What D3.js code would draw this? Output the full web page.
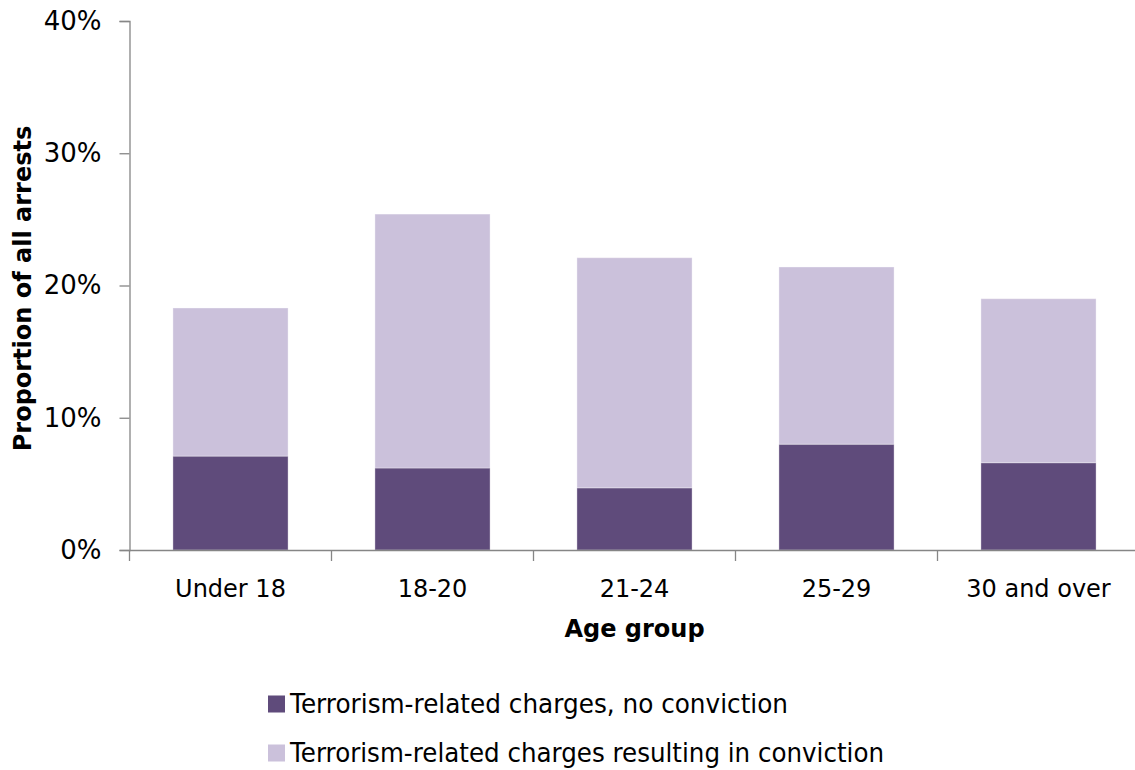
<!DOCTYPE html>
<html>
<head>
<meta charset="utf-8">
<script src="https://cdn.jsdelivr.net/npm/d3@7"></script>
<style>
  html, body { margin: 0; padding: 0; background: #ffffff; }
  svg { display: block; }
  text { font-family: "DejaVu Sans", Verdana, sans-serif; fill: #000; }
</style>
</head>
<body>
<svg id="chart" width="1135" height="770"></svg>
<script>
// Age groups and the share of all arrests (%) in each outcome
const ageGroups = ["Under 18", "18-20", "21-24", "25-29", "30 and over"];
const noConviction = [7.1, 6.2, 4.7, 8.0, 6.6];
const withConviction = [11.2, 19.2, 17.4, 13.4, 12.4];
const yTicks = [0, 10, 20, 30, 40];
const seriesNames = [
  "Terrorism-related charges, no conviction",
  "Terrorism-related charges resulting in conviction"
];
const seriesColors = ["#5f4b7b", "#cbc1db"];

const svg = d3.select("#chart");
const plot = { left: 129.5, right: 1139.5, top: 21, bottom: 550 };

const rows = ageGroups.map((g, i) => ({
  group: g,
  none: noConviction[i],
  conv: withConviction[i]
}));
const stacked = d3.stack().keys(["none", "conv"])(rows);

const x = d3.scaleBand().domain(ageGroups).range([plot.left, plot.right]).padding(0);
const y = d3.scaleLinear().domain([0, 40]).range([plot.bottom, plot.top]);
const barW = x.bandwidth() * 0.57;

// Stacked bars
svg.append("g").selectAll("g")
  .data(stacked)
  .join("g")
  .attr("fill", (d, i) => seriesColors[i])
  .selectAll("rect")
  .data(d => d)
  .join("rect")
  .attr("x", d => x(d.data.group) + (x.bandwidth() - barW) / 2)
  .attr("y", d => y(d[1]))
  .attr("width", barW)
  .attr("height", d => y(d[0]) - y(d[1]))
  .attr("stroke", "rgba(255,255,255,0.35)")
  .attr("stroke-width", 1);

// Y axis
const yAxis = d3.axisLeft(y)
  .tickValues(yTicks)
  .tickFormat(d => d + "%")
  .tickSize(10)
  .tickPadding(18);
const gy = svg.append("g").attr("transform", `translate(${plot.left},0)`).call(yAxis);
gy.select(".domain").attr("stroke", "#868686").attr("stroke-width", 1.3);
gy.selectAll(".tick line").attr("stroke", "#868686").attr("stroke-width", 1.3);
gy.selectAll(".tick text")
  .attr("font-size", 26)
  .attr("font-family", "'DejaVu Sans', Verdana, sans-serif")
  .attr("fill", "#000");

// X axis: baseline with category labels, ticks on the band boundaries
const xAxis = d3.axisBottom(x).tickSize(0).tickPadding(30);
const gx = svg.append("g").attr("transform", `translate(0,${plot.bottom})`).call(xAxis);
gx.select(".domain").attr("stroke", "#868686").attr("stroke-width", 1.3);
gx.selectAll(".tick text")
  .attr("font-size", 24)
  .attr("font-family", "'DejaVu Sans', Verdana, sans-serif")
  .attr("fill", "#000");

const boundaries = ageGroups.map(g => x(g)).concat([x(ageGroups[ageGroups.length - 1]) + x.bandwidth()]);
gx.selectAll("line.boundary")
  .data(boundaries)
  .join("line")
  .attr("class", "boundary")
  .attr("x1", d => d).attr("x2", d => d)
  .attr("y1", 0).attr("y2", 11)
  .attr("stroke", "#868686")
  .attr("stroke-width", 1.3);

// Axis titles
svg.append("text")
  .attr("x", (plot.left + plot.right) / 2)
  .attr("y", 637)
  .attr("text-anchor", "middle")
  .attr("font-size", 24)
  .attr("font-weight", "bold")
  .text("Age group");

svg.append("text")
  .attr("transform", `translate(31,${(plot.top + plot.bottom) / 2 + 3}) rotate(-90)`)
  .attr("text-anchor", "middle")
  .attr("font-size", 24)
  .attr("font-weight", "bold")
  .text("Proportion of all arrests");

// Legend
const legendRows = [
  { y: 704, width: 498 },
  { y: 753, width: 594 }
];
const legend = svg.append("g");
seriesNames.forEach((name, i) => {
  const row = legend.append("g").attr("transform", `translate(268,${legendRows[i].y})`);
  row.append("rect")
    .attr("x", 0).attr("y", -8.5)
    .attr("width", 17).attr("height", 17)
    .attr("fill", seriesColors[i]);
  row.append("text")
    .attr("x", 22)
    .attr("y", 9)
    .attr("font-size", 27)
    .attr("textLength", legendRows[i].width)
    .attr("lengthAdjust", "spacingAndGlyphs")
    .text(name);
});
</script>
</body>
</html>
